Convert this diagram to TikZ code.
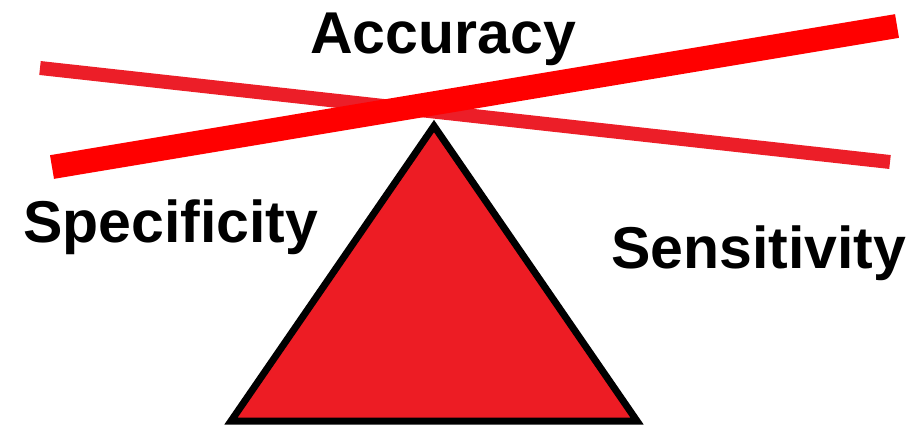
\documentclass[tikz,border=0pt]{standalone}
\usepackage{fontspec}
\setmainfont{Liberation Sans}
\usepackage{xcolor}
\definecolor{balred}{RGB}{237,28,36}
\definecolor{beamred}{RGB}{255,0,0}
\definecolor{beamred2}{RGB}{236,30,40}
\usetikzlibrary{positioning}
\tikzset{
  label/.style={font=\fontsize{59}{70}\selectfont\bfseries, inner sep=0pt, anchor=base west},
  beam/.style={draw=#1, line cap=butt},
  fulcrum/.style={draw=black, fill=balred, line width=7pt, line join=miter},
}

\begin{document}
\begin{tikzpicture}[x=1pt, y=-1pt]
\useasboundingbox (0,0) rectangle (913,429);

% --- Labels ---
\node[label] (acc)  at (310,53)  {Accuracy};
\node[label] (spec) at (23,242)  {Specificity};
\node[label] (sens) at (611,268) {Sensitivity};

% --- Fulcrum ---
\draw[fulcrum] (434,126) -- (637,421) -- (231,421) -- cycle;

% --- Beams ---
\draw[beam=beamred2, line width=14pt] (40,68) -- (890,162);
\draw[beam=beamred, line width=24pt] (52,167) -- (897,26);

\end{tikzpicture}
\end{document}
